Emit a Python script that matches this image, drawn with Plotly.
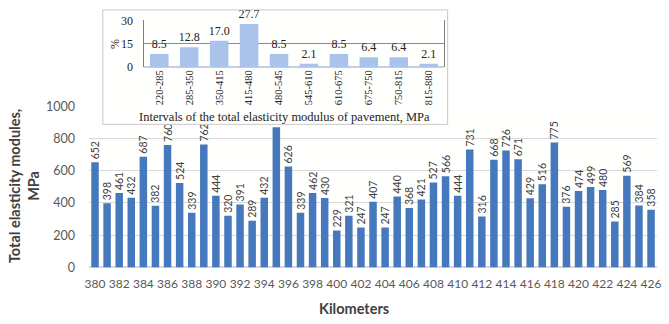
import plotly.graph_objects as go

# ---------------- data ----------------
km = [380, 381, 382, 383, 384, 385, 386, 387, 388, 389, 390, 391, 392, 393, 394, 395,
      396, 397, 398, 399, 400, 401, 402, 403, 404, 405, 406, 407, 408, 409, 410, 411,
      412, 413, 414, 415, 416, 417, 418, 419, 420, 421, 422, 423, 424, 425, 426]
modulus = [652, 398, 461, 432, 687, 382, 760, 524, 339, 762, 444, 320, 391, 289, 432, 869,
           626, 339, 462, 430, 229, 321, 247, 407, 247, 440, 368, 421, 527, 566, 444, 731,
           316, 668, 726, 671, 429, 516, 775, 376, 474, 499, 480, 285, 569, 384, 358]
km_ticks = [380, 382, 384, 386, 388, 390, 392, 394, 396, 398, 400, 402, 404, 406, 408,
            410, 412, 414, 416, 418, 420, 422, 424, 426]

intervals = ["220-285", "285-350", "350-415", "415-480", "480-545",
             "545-610", "610-675", "675-750", "750-815", "815-880"]
share_pct = [8.5, 12.8, 17.0, 27.7, 8.5, 2.1, 8.5, 6.4, 6.4, 2.1]

W, H = 669, 324
def px_x(p): return p / W
def px_y(p): return 1 - p / H

SANS = "Lato, 'Open Sans', sans-serif"
SERIF = "'Liberation Serif', 'Times New Roman', serif"
GREY = "#595959"

fig = go.Figure()

# main bars
fig.add_trace(go.Bar(
    x=km, y=modulus, xaxis="x", yaxis="y",
    marker=dict(color="#4678bd", line=dict(width=0)),
    text=modulus, texttemplate="%{y}", textposition="outside", textangle=-90,
    textfont=dict(family=SANS, size=10.5, color="#404040"),
    constraintext="none", cliponaxis=False, showlegend=False,
))

# blank subplot acting as the white inset box
fig.add_trace(go.Scatter(x=[], y=[], xaxis="x2", yaxis="y2", showlegend=False))

# inset bars
fig.add_trace(go.Bar(
    x=intervals, y=share_pct, xaxis="x3", yaxis="y3",
    marker=dict(color="#a9c3ea", line=dict(width=0)),
    text=share_pct, texttemplate="%{y:.1f}", textposition="outside",
    textfont=dict(family=SERIF, size=12, color="#222222"),
    constraintext="none", cliponaxis=False, showlegend=False,
))

fig.update_layout(
    width=W, height=H,
    margin=dict(l=0, r=0, t=0, b=0),
    paper_bgcolor="#ffffff", plot_bgcolor="#fffffe",
    bargap=0.38,
    xaxis=dict(
        domain=[px_x(86), px_x(661)], anchor="y",
        range=[379.5, 426.5], tickvals=km_ticks, ticktext=[str(v) for v in km_ticks],
        tickangle=0,
        showgrid=False, showline=False, zeroline=False, ticks="",
        tickfont=dict(family=SANS, size=12, color=GREY), ticklabelstandoff=8,
    ),
    yaxis=dict(
        domain=[px_y(272), px_y(103)], anchor="x",
        range=[0, 1000], dtick=200, gridcolor="#d9d9d9", gridwidth=1,
        zeroline=True, zerolinecolor="#d9d9d9", showline=False, ticks="",
        tickfont=dict(family=SANS, size=12.5, color=GREY), ticklabelstandoff=13,
    ),
    xaxis2=dict(domain=[px_x(100), px_x(449)], anchor="y2", range=[0, 1], visible=False,
                fixedrange=True),
    yaxis2=dict(domain=[px_y(122), px_y(2)], anchor="x2", range=[0, 1], visible=False,
                fixedrange=True),
    xaxis3=dict(
        domain=[px_x(142), px_x(445)], anchor="y3",
        showgrid=False, showline=False, zeroline=False, ticks="", tickangle=-90,
        tickfont=dict(family=SERIF, size=10.5, color="#222222"), ticklabelstandoff=0,
    ),
    yaxis3=dict(
        domain=[px_y(62), px_y(13)], anchor="x3",
        range=[0, 30], tickvals=[0, 15, 30], gridcolor="#8c8c8c", gridwidth=1,
        zeroline=True, zerolinecolor="#c6cfe0",
        showline=True, mirror=True, linecolor="#7f7f7f", linewidth=1, ticks="",
        tickfont=dict(family=SERIF, size=12, color="#222222"), ticklabelstandoff=8,
    ),
    shapes=[dict(type="rect", xref="paper", yref="paper",
                 x0=px_x(100), x1=px_x(449), y0=px_y(122), y1=px_y(2),
                 line=dict(color="#c8c8c8", width=1), fillcolor="rgba(0,0,0,0)",
                 layer="above")],
    annotations=[
        dict(text="<b>Kilometers</b>", xref="paper", yref="paper", x=px_x(354), y=px_y(315),
             showarrow=False, font=dict(family=SANS, size=14.5, color="#404040"),
             xanchor="center", yanchor="middle"),
        dict(text="<b>Total elasticity modules,</b><br><b>MPa</b>", xref="paper", yref="paper",
             x=px_x(21), y=px_y(187), textangle=-90, showarrow=False,
             font=dict(family=SANS, size=14.5, color="#404040"),
             xanchor="center", yanchor="middle"),
        dict(text="%", xref="paper", yref="paper", x=px_x(113), y=px_y(38),
             textangle=-90, showarrow=False, font=dict(family=SERIF, size=12, color="#222222"),
             xanchor="center", yanchor="middle"),
        dict(text="Intervals of the total elasticity modulus of pavement, MPa",
             xref="paper", yref="paper", x=px_x(284), y=px_y(114), showarrow=False,
             font=dict(family=SERIF, size=12.5, color="#222222"),
             xanchor="center", yanchor="middle"),
    ],
)

fig.write_html("out.html")
